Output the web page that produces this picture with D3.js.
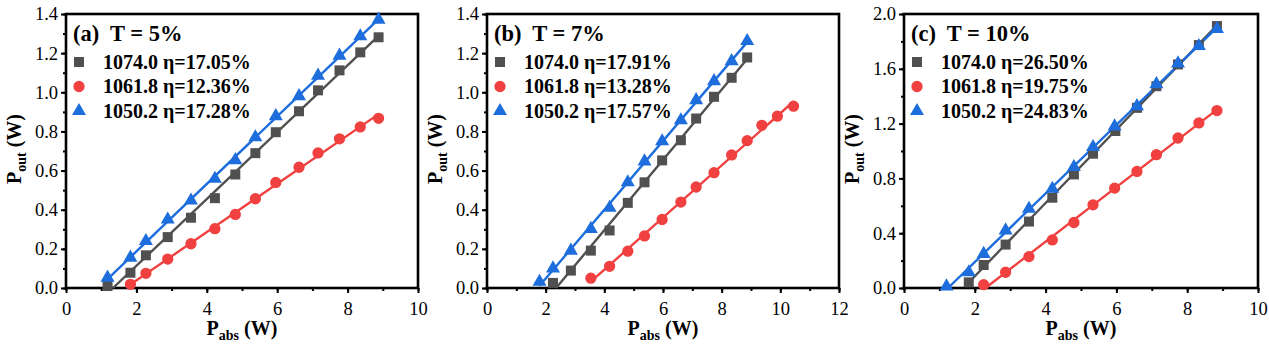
<!DOCTYPE html>
<html>
<head>
<meta charset="utf-8">
<script src="https://cdn.jsdelivr.net/npm/d3@7"></script>
<style>
  body { margin: 0; background: #fff; }
</style>
</head>
<body>
<div id="chart"></div>
<script>
// ---- data ----
// panel (a) T = 5%
const a_x1074 = [1.18, 1.83, 2.27, 2.89, 3.55, 4.23, 4.81, 5.38, 5.96, 6.62, 7.16, 7.77, 8.36, 8.88];
const a_y1074 = [0.01, 0.078, 0.167, 0.26, 0.359, 0.459, 0.58, 0.689, 0.796, 0.903, 1.01, 1.112, 1.204, 1.281];
const a_x1061 = [1.83, 2.27, 2.89, 3.55, 4.23, 4.81, 5.38, 5.96, 6.62, 7.16, 7.77, 8.36, 8.88];
const a_y1061 = [0.019, 0.075, 0.148, 0.226, 0.303, 0.376, 0.456, 0.539, 0.617, 0.69, 0.762, 0.823, 0.867];
const a_x1050 = [1.18, 1.83, 2.27, 2.89, 3.55, 4.23, 4.81, 5.38, 5.96, 6.62, 7.16, 7.77, 8.36, 8.88];
const a_y1050 = [0.053, 0.155, 0.24, 0.35, 0.447, 0.558, 0.653, 0.77, 0.878, 0.98, 1.085, 1.187, 1.286, 1.371];

// panel (b) T = 7%
const b_x1074 = [2.25, 2.86, 3.54, 4.18, 4.80, 5.37, 5.97, 6.61, 7.13, 7.74, 8.34, 8.87];
const b_y1074 = [0.026, 0.089, 0.191, 0.294, 0.435, 0.54, 0.652, 0.755, 0.866, 0.977, 1.074, 1.178];
const b_x1061 = [3.54, 4.18, 4.80, 5.37, 5.97, 6.61, 7.13, 7.74, 8.34, 8.87, 9.37, 9.90, 10.45];
const b_y1061 = [0.05, 0.111, 0.188, 0.266, 0.35, 0.439, 0.516, 0.589, 0.68, 0.753, 0.831, 0.878, 0.929];
const b_x1050 = [1.79, 2.25, 2.86, 3.54, 4.18, 4.80, 5.37, 5.97, 6.61, 7.13, 7.74, 8.34, 8.87];
const b_y1050 = [0.032, 0.1, 0.191, 0.302, 0.41, 0.54, 0.647, 0.75, 0.857, 0.96, 1.057, 1.159, 1.262];

// panel (c) T = 10%
const c_x1074 = [1.83, 2.25, 2.87, 3.53, 4.19, 4.80, 5.34, 5.97, 6.58, 7.13, 7.74, 8.33, 8.84];
const c_y1074 = [0.041, 0.168, 0.317, 0.485, 0.659, 0.829, 0.98, 1.146, 1.315, 1.473, 1.632, 1.773, 1.912];
const c_x1061 = [2.25, 2.87, 3.53, 4.19, 4.80, 5.34, 5.95, 6.58, 7.13, 7.74, 8.33, 8.84];
const c_y1061 = [0.024, 0.115, 0.229, 0.351, 0.478, 0.607, 0.729, 0.851, 0.973, 1.095, 1.205, 1.295];
const c_x1050 = [1.20, 1.83, 2.25, 2.87, 3.53, 4.19, 4.80, 5.34, 5.95, 6.58, 7.13, 7.74, 8.33, 8.84];
const c_y1050 = [0.012, 0.115, 0.249, 0.42, 0.578, 0.724, 0.883, 1.029, 1.18, 1.327, 1.488, 1.639, 1.766, 1.89];

const wavelengths = ['1074.0', '1061.8', '1050.2'];
const etaA = ['17.05%', '12.36%', '17.28%'];
const etaB = ['17.91%', '13.28%', '17.57%'];
const etaC = ['26.50%', '19.75%', '24.83%'];
const panelTitles = ['(a)  T = 5%', '(b)  T = 7%', '(c)  T = 10%'];

const colors = ['#505050', '#f04040', '#1d6ddc'];
const symbols = [d3.symbolSquare, d3.symbolCircle, d3.symbolTriangle];
const symbolSizes = [100, 100, 85];

const FONT = '"Liberation Serif", "Times New Roman", Times, "DejaVu Serif", serif';
const W = 1269, H = 345;
const svg = d3.select('#chart').append('svg').attr('width', W).attr('height', H)
  .attr('font-family', FONT);

// least squares fit of a series, drawn from first point (or x-intercept) to last point
const fitLine = (xs, ys) => {
  const mx = d3.mean(xs), my = d3.mean(ys);
  const sxy = d3.sum(xs, (x, i) => (x - mx) * (ys[i] - my));
  const sxx = d3.sum(xs, x => (x - mx) * (x - mx));
  const k = sxy / sxx, b = my - k * mx;
  const x0 = Math.max(xs[0], -b / k), x1 = xs[xs.length - 1];
  return [[x0, k * x0 + b], [x1, k * x1 + b]];
};

const drawPanel = cfg => {
  const g = svg.append('g');
  const x = d3.scaleLinear().domain(cfg.xDomain).range([cfg.left, cfg.right]);
  const y = d3.scaleLinear().domain(cfg.yDomain).range([cfg.bottom, cfg.top]);

  // minor ticks
  const xMinor = d3.range(cfg.xDomain[0], cfg.xDomain[1] + 1e-9, cfg.xStep / 2);
  const yMinor = d3.range(cfg.yDomain[0], cfg.yDomain[1] + 1e-9, cfg.yStep / 2);
  g.append('g')
    .attr('transform', `translate(0,${cfg.bottom})`)
    .call(d3.axisBottom(x).tickValues(xMinor).tickSize(3).tickFormat(''))
    .call(s => s.select('.domain').remove())
    .selectAll('line').attr('stroke', '#000').attr('stroke-width', 2);
  g.append('g')
    .attr('transform', `translate(${cfg.left},0)`)
    .call(d3.axisLeft(y).tickValues(yMinor).tickSize(3).tickFormat(''))
    .call(s => s.select('.domain').remove())
    .selectAll('line').attr('stroke', '#000').attr('stroke-width', 2);

  // major ticks + labels
  const xAxis = g.append('g')
    .attr('transform', `translate(0,${cfg.bottom})`)
    .call(d3.axisBottom(x)
      .tickValues(d3.range(cfg.xDomain[0], cfg.xDomain[1] + 1e-9, cfg.xStep))
      .tickSize(5).tickPadding(9).tickFormat(d3.format('d')));
  xAxis.attr('font-family', FONT);
  xAxis.select('.domain').remove();
  xAxis.selectAll('line').attr('stroke', '#000').attr('stroke-width', 2);
  xAxis.selectAll('text').attr('font-size', 18.5).attr('fill', '#000');

  const yAxis = g.append('g')
    .attr('transform', `translate(${cfg.left},0)`)
    .call(d3.axisLeft(y)
      .tickValues(d3.range(cfg.yDomain[0], cfg.yDomain[1] + 1e-9, cfg.yStep))
      .tickSize(5).tickPadding(3).tickFormat(d3.format('.1f')));
  yAxis.attr('font-family', FONT);
  yAxis.select('.domain').remove();
  yAxis.selectAll('line').attr('stroke', '#000').attr('stroke-width', 2);
  yAxis.selectAll('text').attr('font-size', 18.5).attr('fill', '#000');

  // frame
  g.append('rect')
    .attr('x', cfg.left).attr('y', cfg.top)
    .attr('width', cfg.right - cfg.left).attr('height', cfg.bottom - cfg.top)
    .attr('fill', 'none').attr('stroke', '#000').attr('stroke-width', 2.6);

  // fitted lines and markers
  cfg.series.forEach((s, i) => {
    const pts = fitLine(s.x, s.y);
    g.append('line')
      .attr('x1', x(pts[0][0])).attr('y1', y(pts[0][1]))
      .attr('x2', x(pts[1][0])).attr('y2', y(pts[1][1]))
      .attr('stroke', colors[i]).attr('stroke-width', 2.4);
  });
  cfg.series.forEach((s, i) => {
    g.append('g').selectAll('path')
      .data(s.x.map((v, j) => [v, s.y[j]]))
      .join('path')
      .attr('transform', d => `translate(${x(d[0])},${y(d[1])})`)
      .attr('d', d3.symbol(symbols[i], symbolSizes[i]))
      .attr('fill', colors[i]);
  });

  // panel title + legend
  g.append('text')
    .attr('x', cfg.left + 7).attr('y', cfg.top + 27)
    .attr('font-size', 22.5).attr('font-weight', 'bold')
    .attr('xml:space', 'preserve')
    .text(cfg.title);
  wavelengths.forEach((w, i) => {
    const cy = cfg.top + 48 + i * 24.5;
    g.append('path')
      .attr('transform', `translate(${cfg.left + 13},${cy})`)
      .attr('d', d3.symbol(symbols[i], symbolSizes[i]))
      .attr('fill', colors[i]);
    g.append('text')
      .attr('x', cfg.left + 37).attr('y', cy + 6.5)
      .attr('font-size', 20).attr('font-weight', 'bold')
      .text(`${w} η=${cfg.eta[i]}`);
  });

  // axis titles
  const xt = g.append('text')
    .attr('x', (cfg.left + cfg.right) / 2).attr('y', 335)
    .attr('text-anchor', 'middle').attr('font-size', 20).attr('font-weight', 'bold');
  xt.append('tspan').text('P');
  xt.append('tspan').attr('font-size', 14).attr('dy', 5).text('abs');
  xt.append('tspan').attr('dy', -5).text(' (W)');

  const cyMid = (cfg.top + cfg.bottom) / 2 - 2;
  const yt = g.append('text')
    .attr('transform', `translate(${cfg.left - 45},${cyMid}) rotate(-90)`)
    .attr('text-anchor', 'middle').attr('font-size', 20).attr('font-weight', 'bold');
  yt.append('tspan').text('P');
  yt.append('tspan').attr('font-size', 14).attr('dy', 5).text('out');
  yt.append('tspan').attr('dy', -5).text(' (W)');
};

drawPanel({
  left: 66, right: 418, top: 14, bottom: 288,
  xDomain: [0, 10], xStep: 2, yDomain: [0, 1.4], yStep: 0.2,
  title: panelTitles[0], eta: etaA,
  series: [{x: a_x1074, y: a_y1074}, {x: a_x1061, y: a_y1061}, {x: a_x1050, y: a_y1050}]
});
drawPanel({
  left: 487, right: 839, top: 14, bottom: 288,
  xDomain: [0, 12], xStep: 2, yDomain: [0, 1.4], yStep: 0.2,
  title: panelTitles[1], eta: etaB,
  series: [{x: b_x1074, y: b_y1074}, {x: b_x1061, y: b_y1061}, {x: b_x1050, y: b_y1050}]
});
drawPanel({
  left: 904, right: 1258, top: 14, bottom: 288,
  xDomain: [0, 10], xStep: 2, yDomain: [0, 2.0], yStep: 0.4,
  title: panelTitles[2], eta: etaC,
  series: [{x: c_x1074, y: c_y1074}, {x: c_x1061, y: c_y1061}, {x: c_x1050, y: c_y1050}]
});
</script>
</body>
</html>
